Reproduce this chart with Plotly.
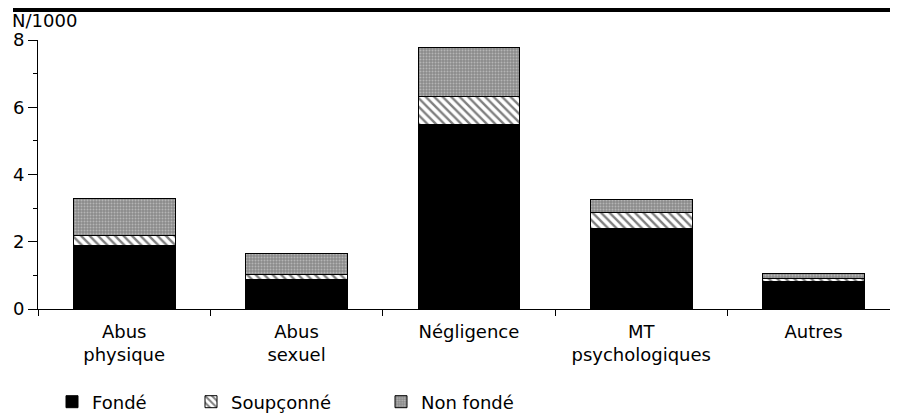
import plotly.graph_objects as go

categories = ["Abus<br>physique", "Abus<br>sexuel", "Négligence", "MT<br>psychologiques", "Autres"]
fonde = [1.9, 0.87, 5.5, 2.4, 0.82]
soupconne = [0.3, 0.17, 0.82, 0.46, 0.09]
non_fonde = [1.1, 0.6, 1.46, 0.41, 0.15]
series_names = ["Fondé", "Soupçonné", "Non fondé"]
y_ticks = [0, 2, 4, 6, 8]

FONT = "DejaVu Sans"

fig = go.Figure()
fig.add_trace(go.Bar(
    x=categories, y=fonde, name=series_names[0], legend="legend",
    marker=dict(color="black", line=dict(color="black", width=1)),
))
fig.add_trace(go.Bar(
    x=categories, y=soupconne, name=series_names[1], legend="legend2",
    marker=dict(color="white", line=dict(color="black", width=1),
                pattern=dict(shape="\\", fgcolor="black", bgcolor="white", size=6, solidity=0.4)),
))
fig.add_trace(go.Bar(
    x=categories, y=non_fonde, name=series_names[2], legend="legend3",
    marker=dict(color="#8a8a8a", line=dict(color="black", width=1),
                pattern=dict(shape=".", fgcolor="#e0e0e0", bgcolor="#8a8a8a", size=3, solidity=0.35)),
))

PW = 860.0
PH = 269.0
legend_common = dict(orientation="h", xanchor="left", y=-(93 / PH), yanchor="middle",
                     font=dict(size=18), itemwidth=30, bgcolor="rgba(0,0,0,0)")
fig.update_layout(
    barmode="stack",
    bargap=0.41,
    width=890, height=411,
    margin=dict(l=30, r=0, t=32, b=110, autoexpand=False),
    plot_bgcolor="white", paper_bgcolor="white",
    font=dict(family=FONT, size=18, color="black"),
    showlegend=True,
    legend=dict(x=14 / PW, **legend_common),
    legend2=dict(x=153 / PW, **legend_common),
    legend3=dict(x=343 / PW, **legend_common),
    xaxis=dict(range=[-0.5, 4.49], showline=True, linecolor="black", linewidth=1,
               ticks="outside", tickson="boundaries", ticklen=6, tickcolor="black",
               ticklabelstandoff=6,
               showgrid=False, zeroline=False, fixedrange=True, automargin=False),
    yaxis=dict(range=[0, 8], tickvals=y_ticks, showline=True, linecolor="black", linewidth=1,
               ticks="outside", ticklen=9, tickcolor="black", showgrid=False, zeroline=False,
               minor=dict(dtick=1, ticks="outside", ticklen=4, tickcolor="black"),
               fixedrange=True, automargin=False),
    annotations=[dict(text="N/1000", xref="paper", yref="paper", x=0, y=1, xshift=-28, yshift=7,
                      xanchor="left", yanchor="bottom", showarrow=False, font=dict(size=18))],
    shapes=[dict(type="rect", xref="paper", yref="paper", x0=-25 / PW, x1=1.0,
                 y0=1 + 28 / PH, y1=1 + 40 / PH, fillcolor="black", line=dict(width=0))],
)

fig.write_html("out.html")
